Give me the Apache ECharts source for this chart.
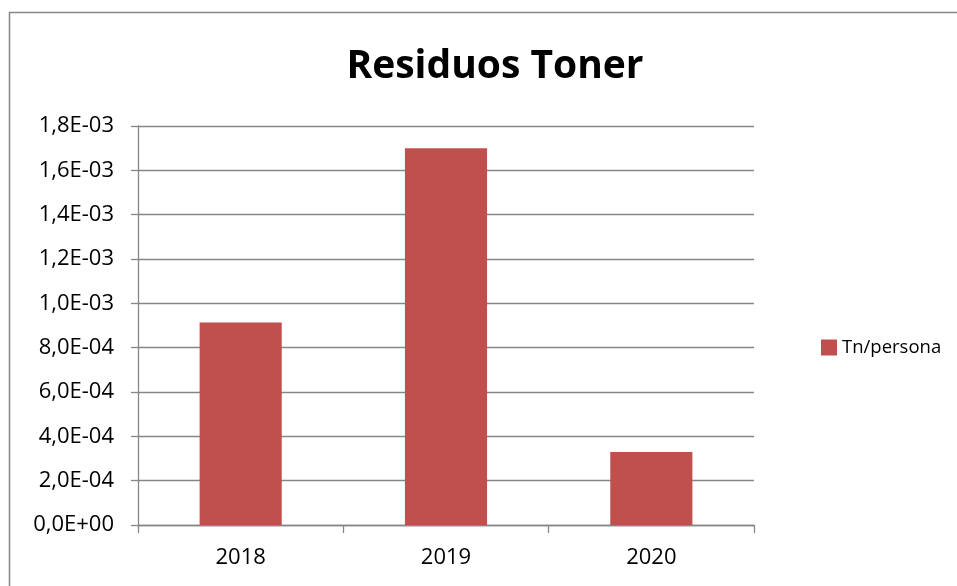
<!DOCTYPE html>
<html>
<head>
<meta charset="utf-8">
<script src="https://cdn.jsdelivr.net/npm/echarts@6/dist/echarts.min.js"></script>
<style>
  html, body { margin: 0; padding: 0; background: #fff; }
  #main { width: 957px; height: 586px; }
</style>
</head>
<body>
<div id="main"></div>
<script>
// datos del gráfico
var years = ['2018', '2019', '2020'];
var tnPersona = [0.000914, 0.00170, 0.000329];
var seriesName = 'Tn/persona';

// formato tipo Excel: 1,8E-03
function sci(v) {
    var s = Number(v).toExponential(1).split('e');
    var exp = parseInt(s[1], 10);
    var sign = exp < 0 ? '-' : '+';
    var e = Math.abs(exp);
    return s[0].replace('.', ',') + 'E' + sign + (e < 10 ? '0' + e : e);
}

var myChart = echarts.init(document.getElementById('main'));
var font = '"Open Sans", sans-serif';
var option = {
    backgroundColor: '#fff',
    title: {
        text: 'Residuos Toner',
        left: 490,
        textAlign: 'center',
        top: 42,
        textStyle: { fontFamily: font, fontSize: 39, fontWeight: 'bold', color: '#000' }
    },
    graphic: [{
        type: 'rect',
        shape: { x: 9.5, y: 12.5, width: 1000, height: 1000 },
        style: { fill: 'none', stroke: '#868686', lineWidth: 1.5 },
        silent: true
    }],
    legend: {
        data: [seriesName],
        left: 816,
        top: 333,
        itemWidth: 16,
        itemHeight: 16,
        itemGap: 8,
        icon: 'rect',
        textStyle: { fontFamily: font, fontSize: 18.5, color: '#000' }
    },
    grid: { left: 138, right: 203, top: 126, bottom: 61 },
    xAxis: {
        type: 'category',
        data: years,
        axisLine: { lineStyle: { color: '#868686', width: 1.3 } },
        axisTick: { show: true, length: 8, lineStyle: { color: '#868686', width: 1.3 } },
        axisLabel: { fontFamily: font, fontSize: 22, color: '#000', margin: 22 }
    },
    yAxis: {
        type: 'value',
        min: 0,
        max: 0.0018,
        interval: 0.0002,
        axisLine: { show: true, lineStyle: { color: '#868686', width: 1.3 } },
        axisTick: { show: true, length: 7, lineStyle: { color: '#868686', width: 1.3 } },
        splitLine: { lineStyle: { color: '#868686', width: 1.3 } },
        axisLabel: { fontFamily: font, fontSize: 22, color: '#000', margin: 24, formatter: sci }
    },
    series: [
        {
            name: seriesName,
            type: 'bar',
            data: tnPersona,
            barWidth: '40%',
            itemStyle: { color: '#C0504D' }
        }
    ]
};
myChart.setOption(option);
</script>
</body>
</html>
